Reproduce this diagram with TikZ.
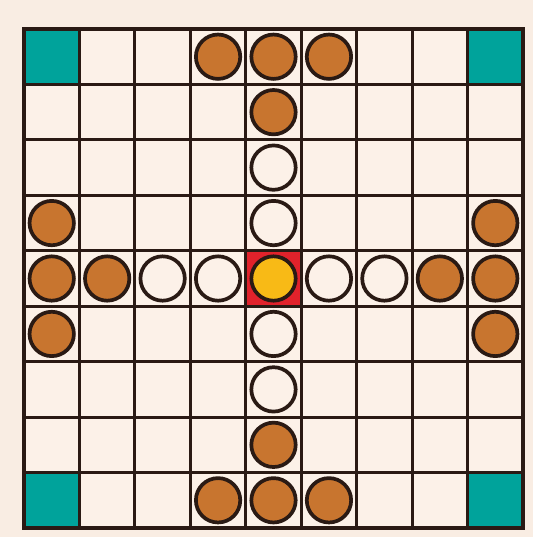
\documentclass[tikz,border=0pt]{standalone}
\usepackage{xcolor}
\usepackage{tikz}
\definecolor{boardbg}{HTML}{F9EDE3}
\definecolor{cellbg}{HTML}{FCF1E8}
\definecolor{gridline}{HTML}{2A1A14}
\definecolor{cornerteal}{HTML}{00A39B}
\definecolor{throne}{HTML}{E1222B}
\definecolor{attacker}{HTML}{C8752F}
\definecolor{kinggold}{HTML}{F8BA16}

\begin{document}
\begin{tikzpicture}[
  x=1cm,y=1cm,
  piece/.style={circle,draw=gridline,line width=1.9pt,minimum size=0.8cm,inner sep=0pt},
  brownpiece/.style={piece,fill=attacker},
  whitepiece/.style={piece,fill=cellbg},
  kingpiece/.style={piece,fill=kinggold},
  grid/.style={draw=gridline,line width=1.5pt},
]
\fill[boardbg] (-0.433,-0.162) rectangle (9.18,9.523);
\useasboundingbox (-0.433,-0.162) rectangle (9.18,9.523);
\fill[cellbg] (0,0) rectangle (9,9);

\foreach \x/\y in {0/0,8/0,0/8,8/8}
  \fill[cornerteal] (\x,\y) rectangle ++(1,1);
\fill[throne] (4,4) rectangle ++(1,1);

\draw[grid] (0,0) grid (9,9);
\draw[draw=gridline,line width=2.4pt] (0,0) rectangle (9,9);

% attackers, column/row counted from the top left
\foreach \c/\r in {3/0,4/0,5/0,4/1,0/3,8/3,0/4,1/4,7/4,8/4,0/5,8/5,4/7,3/8,4/8,5/8}
  \node[brownpiece] (a-\c-\r) at (\c+0.5,8.5-\r) {};

% defenders
\foreach \c/\r in {4/2,4/3,2/4,3/4,5/4,6/4,4/5,4/6}
  \node[whitepiece] (d-\c-\r) at (\c+0.5,8.5-\r) {};

\node[kingpiece] (king) at (4.5,4.5) {};
\end{tikzpicture}
\end{document}
